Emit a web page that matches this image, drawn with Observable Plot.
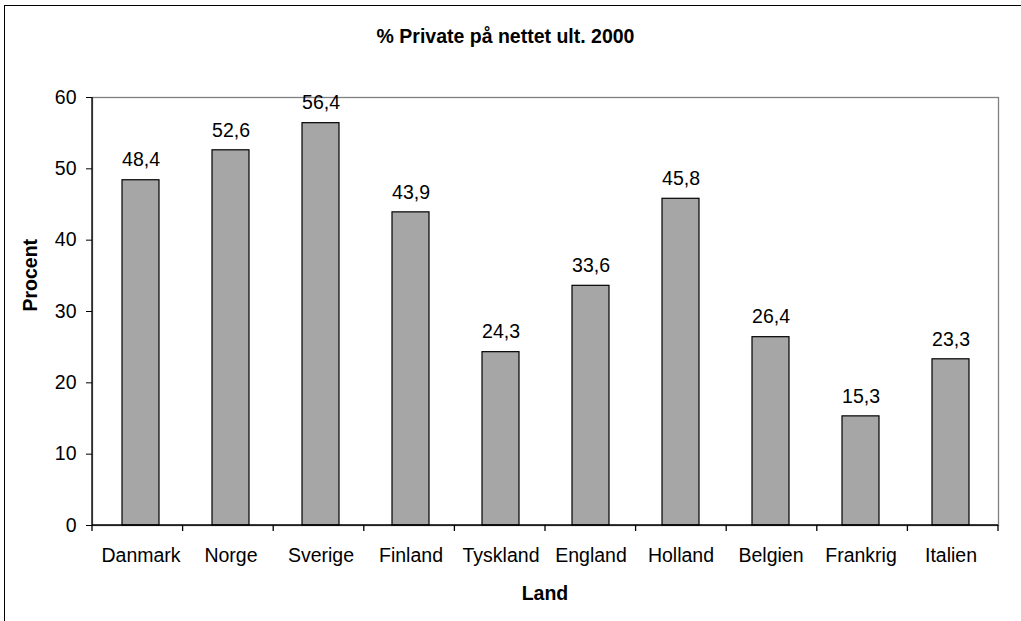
<!DOCTYPE html>
<html>
<head>
<meta charset="utf-8">
<script src="https://cdn.jsdelivr.net/npm/d3@7"></script>
<script src="https://cdn.jsdelivr.net/npm/@observablehq/plot@0.6"></script>
<style>
  html, body { margin: 0; padding: 0; background: #fff; }
  body { width: 1021px; height: 621px; overflow: hidden; position: relative;
         font-family: Arial, "Liberation Sans", sans-serif; color: #000; }
  #outer { position: absolute; left: 4px; top: 5px; width: 1100px; height: 700px;
           border-left: 1.5px solid #000; border-top: 1.5px solid #000; }
  #title { position: relative; height: 35px; padding-top: 27px; box-sizing: content-box;
           width: 1011px; text-align: center; font-weight: bold; font-size: 19.5px; line-height: 19px; }
  #chart { position: relative; height: 513px; }
  #xlabel { position: relative; height: 37.5px; padding-top: 8.5px; width: 1090px; padding-left: 0;
            font-weight: bold; font-size: 19.5px; line-height: 19px; }
  #xlabel span { position: absolute; left: 545px; transform: translateX(-50%); }
</style>
</head>
<body>
<div id="outer"></div>
<div id="title">% Private på nettet ult. 2000</div>
<div id="chart"></div>
<div id="xlabel"><span>Land</span></div>
<script>
const countries = ["Danmark", "Norge", "Sverige", "Finland", "Tyskland", "England", "Holland", "Belgien", "Frankrig", "Italien"];
const values = [48.4, 52.6, 56.4, 43.9, 24.3, 33.6, 45.8, 26.4, 15.3, 23.3];
const yTicks = [0, 10, 20, 30, 40, 50, 60];
const yLabel = "Procent";

const data = countries.map((c, i) => ({country: c, value: values[i]}));
const fmt = v => v.toFixed(1).replace(".", ",");

function axisLines(index, scales, values, dimensions) {
  const {width, height, marginLeft, marginRight, marginTop, marginBottom} = dimensions;
  const n = countries.length;
  const step = (width - marginLeft - marginRight) / n;
  const y0 = height - marginBottom;
  const g = d3.create("svg:g").attr("stroke", "#000").attr("stroke-width", 1.3);
  g.append("line").attr("x1", marginLeft).attr("x2", marginLeft).attr("y1", marginTop).attr("y2", y0);
  g.append("line").attr("x1", marginLeft).attr("x2", width - marginRight).attr("y1", y0).attr("y2", y0);
  for (let i = 0; i <= n; i++) {
    const x = marginLeft + i * step;
    g.append("line").attr("x1", x).attr("x2", x).attr("y1", y0).attr("y2", y0 + 6);
  }
  return g.node();
}

const plot = Plot.plot({
  width: 1021,
  height: 513,
  marginTop: 35,
  marginBottom: 50,
  marginLeft: 92,
  marginRight: 23,
  style: {fontSize: "19.5px", fontFamily: "Arial, 'Liberation Sans', sans-serif", color: "#000", background: "transparent"},
  x: {type: "band", domain: countries, paddingInner: 0.59, paddingOuter: 0.295, label: null},
  y: {domain: [0, 60], label: null},
  marks: [
    Plot.frame({stroke: "#808080", strokeWidth: 1.3}),
    Plot.barY(data, {x: "country", y: "value", fill: "#a6a6a6", stroke: "#000", strokeWidth: 1.2}),
    Plot.text(data, {x: "country", y: "value", text: d => fmt(d.value), dy: -20, fill: "#000"}),
    Plot.axisY({ticks: yTicks, tickSize: 6, tickPadding: 10, label: null, tickFormat: d => String(d)}),
    Plot.axisX({tickSize: 0, tickPadding: 23, label: null}),
    Plot.text([yLabel], {frameAnchor: "left", dx: -62, rotate: -90, fontWeight: "bold", fill: "#000"}),
    axisLines
  ]
});
document.getElementById("chart").appendChild(plot);
</script>
</body>
</html>
